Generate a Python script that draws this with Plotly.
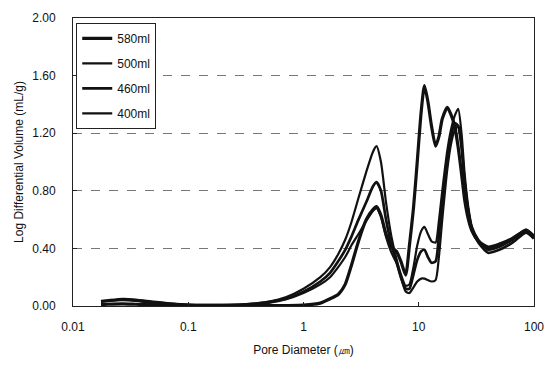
import plotly.graph_objects as go

# Pore diameter grid (µm)
pore_diameter = [0.0175, 0.02, 0.027, 0.035, 0.05, 0.07, 0.1, 0.15, 0.2, 0.3, 0.4, 0.5, 0.7,
                 1.0, 1.4, 1.7, 2.0, 2.3, 2.6, 3.0, 3.5, 4.0, 4.3, 4.7, 5.2, 5.8, 6.4, 7.0,
                 7.7, 8.3, 9.0, 9.7, 10.5, 11.2, 12.0, 12.9, 14.0, 15.0, 16.0, 17.7, 19.0,
                 20.5, 22.0, 23.5, 25.0, 27.0, 29.0, 33.0, 40.0, 50.0, 65.0, 85.0, 100.0]

# Log differential intrusion volume (mL/g)
vol_580 = [0.01, 0.012, 0.015, 0.012, 0.008, 0.005, 0.003, 0.002, 0.002, 0.002, 0.002, 0.002, 0.003,
           0.006, 0.02, 0.05, 0.08, 0.15, 0.28, 0.45, 0.6, 0.67, 0.69, 0.63, 0.5, 0.41, 0.38, 0.31,
           0.215, 0.42, 0.68, 1.0, 1.35, 1.53, 1.42, 1.25, 1.11, 1.18, 1.3, 1.38, 1.33,
           1.25, 1.1, 0.92, 0.74, 0.6, 0.52, 0.45, 0.41, 0.43, 0.47, 0.52, 0.47]
vol_500 = [0.035, 0.04, 0.05, 0.045, 0.03, 0.018, 0.01, 0.008, 0.008, 0.012, 0.02, 0.03, 0.06,
           0.12, 0.2, 0.27, 0.36, 0.46, 0.58, 0.75, 0.93, 1.07, 1.11, 1.0, 0.72, 0.48, 0.33, 0.22,
           0.14, 0.15, 0.27, 0.42, 0.52, 0.55, 0.5, 0.45, 0.44, 0.6, 0.8, 1.08, 1.22,
           1.32, 1.37, 1.2, 0.92, 0.68, 0.55, 0.46, 0.39, 0.41, 0.46, 0.53, 0.49]
vol_460 = [0.03, 0.035, 0.045, 0.04, 0.025, 0.015, 0.008, 0.006, 0.006, 0.01, 0.017, 0.027, 0.05,
           0.1, 0.17, 0.23, 0.31, 0.39, 0.48, 0.6, 0.72, 0.83, 0.86, 0.8, 0.6, 0.42, 0.31, 0.2,
           0.12, 0.12, 0.22, 0.32, 0.38, 0.39, 0.34, 0.3, 0.31, 0.5, 0.72, 1.0, 1.17,
           1.27, 1.25, 1.1, 0.86, 0.65, 0.53, 0.44, 0.37, 0.39, 0.44, 0.51, 0.47]
vol_400 = [0.03, 0.035, 0.04, 0.035, 0.02, 0.012, 0.007, 0.005, 0.005, 0.008, 0.014, 0.022, 0.045,
           0.09, 0.15, 0.2, 0.27, 0.34, 0.42, 0.5, 0.59, 0.66, 0.68, 0.62, 0.48, 0.37, 0.3, 0.2,
           0.1, 0.09, 0.13, 0.17, 0.19, 0.19, 0.18, 0.17, 0.18, 0.35, 0.6, 0.95, 1.12,
           1.22, 1.25, 1.12, 0.88, 0.66, 0.54, 0.45, 0.4, 0.42, 0.47, 0.53, 0.48]

series = [("580ml", vol_580, 3.2), ("500ml", vol_500, 2.2),
          ("460ml", vol_460, 2.7), ("400ml", vol_400, 2.2)]

x_ticks = [0.01, 0.1, 1, 10, 100]
x_tick_labels = ["0.01", "0.1", "1", "10", "100"]

FONT = "Liberation Sans, Arial, sans-serif"

fig = go.Figure()
for i, (name, vals, w) in enumerate(series):
    fig.add_trace(go.Scatter(
        x=pore_diameter, y=vals, name=name, mode="lines",
        legendgroup=f"g{i}",
        line=dict(color="#111111", width=w, shape="spline", smoothing=0.6),
    ))

fig.update_layout(
    width=558, height=366,
    margin=dict(l=73, r=24, t=11, b=58),
    paper_bgcolor="white", plot_bgcolor="white",
    font=dict(family=FONT, size=12, color="#111111"),
    showlegend=True,
    legend=dict(
        x=0.007, y=0.983, xanchor="left", yanchor="top",
        bgcolor="white", bordercolor="#222222", borderwidth=1,
        font=dict(family=FONT, size=12, color="#111111"),
        traceorder="grouped", tracegroupgap=6, itemwidth=30,
    ),
)

fig.update_xaxes(
    type="log", range=[-2, 2],
    tickvals=x_ticks, ticktext=x_tick_labels,
    ticks="inside", ticklen=4, tickcolor="#222222",
    showgrid=False, zeroline=False,
    showline=True, linecolor="#222222", linewidth=1, mirror=True,
    ticklabelstandoff=10,
    title=dict(text="Pore Diameter (㎛)", standoff=12,
               font=dict(family=FONT, size=12)),
)
fig.update_yaxes(
    range=[0, 2], dtick=0.4, tick0=0, tickformat=".2f",
    ticks="inside", ticklen=4, tickcolor="#222222",
    showgrid=True, gridcolor="#777777", griddash="dash", gridwidth=1,
    zeroline=False,
    showline=True, linecolor="#222222", linewidth=1, mirror=True,
    ticklabelstandoff=14,
    title=dict(text="Log Differential Volume (mL/g)", standoff=6,
               font=dict(family=FONT, size=12)),
)

fig.write_html("out.html")
